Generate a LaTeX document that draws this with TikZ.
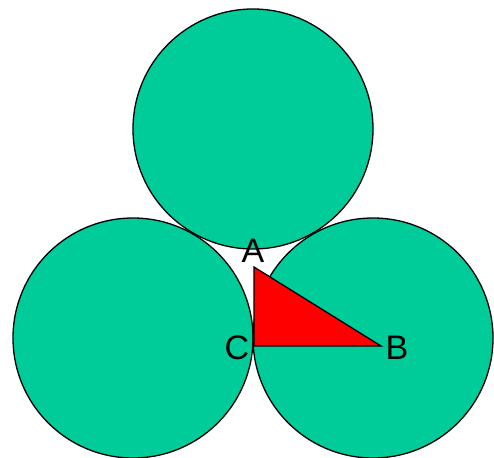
\documentclass[tikz,border=0pt]{standalone}
\usepackage{fontspec}
\setmainfont{Liberation Sans}
\definecolor{disc}{RGB}{0,204,153}
\begin{document}
\begin{tikzpicture}[x=1pt,y=-1pt,
  disk/.style={circle,draw=black,line width=1.3pt,fill=disc,minimum size=240pt,inner sep=0pt},
  lbl/.style={font=\fontsize{34}{34}\selectfont,inner sep=0pt}]
\clip (0,0) rectangle (494,457);
\useasboundingbox (0,0) rectangle (494,457);
\node[disk] (top) at (253,129) {};
\node[disk] (left) at (133,338) {};
\node[disk] (right) at (373,338) {};
\coordinate (A) at (254,267);
\coordinate (C) at (254,346);
\coordinate (B) at (381,346);
\draw[fill=red,line width=1.3pt,line join=miter] (A) -- (B) -- (C) -- cycle;
\node[lbl] (la) at (253,251) {A};
\node[lbl] (lc) at (237,348) {C};
\node[lbl] (lb) at (397,348) {B};
\end{tikzpicture}
\end{document}
